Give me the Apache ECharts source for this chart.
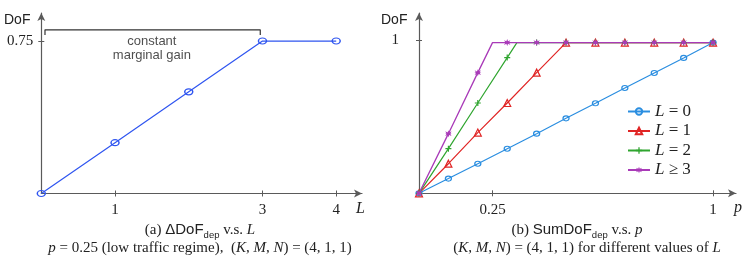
<!DOCTYPE html>
<html>
<head>
<meta charset="utf-8">
<script src="https://cdn.jsdelivr.net/npm/echarts@6/dist/echarts.min.js"></script>
<style>html,body{margin:0;padding:0;background:#fff;}#c{width:748px;height:259px;}</style>
</head>
<body>
<div id="c"></div>
<script>
// ---- Left chart data: ΔDoF_dep vs L ----
const leftL = [0, 1, 2, 3, 4];
const leftDoF = [0, 0.25, 0.5, 0.75, 0.75];
const leftXTicks = [1, 3, 4];
const leftYTicks = [0.75];
const bracketX = [0.05, 0.05, 2.97, 2.97];
const bracketY = [0.78, 0.805, 0.805, 0.78];
const annotX = [1.5];
const annotY = [0.714];

// ---- Right chart data: SumDoF_dep vs p ----
const p0 = [0, 0.1, 0.2, 0.3, 0.4, 0.5, 0.6, 0.7, 0.8, 0.9, 1.0];
const y0 = [0, 0.096, 0.193, 0.291, 0.389, 0.489, 0.587, 0.687, 0.785, 0.883, 0.983];
const p1 = [0, 0.1, 0.2, 0.3, 0.4, 0.5, 0.6, 0.7, 0.8, 0.9, 1.0];
const y1 = [0, 0.193, 0.396, 0.589, 0.787, 0.983, 0.983, 0.983, 0.983, 0.983, 0.983];
const p2 = [0, 0.1, 0.2, 0.3, 0.333, 0.4, 0.5, 0.6, 0.7, 0.8, 0.9, 1.0];
const y2 = [0, 0.291, 0.589, 0.885, 0.983, 0.983, 0.983, 0.983, 0.983, 0.983, 0.983, 0.983];
const p3 = [0, 0.1, 0.2, 0.25, 0.3, 0.4, 0.5, 0.6, 0.7, 0.8, 0.9, 1.0];
const y3 = [0, 0.389, 0.787, 0.983, 0.983, 0.983, 0.983, 0.983, 0.983, 0.983, 0.983, 0.983];
const knees2 = [0.333];
const knees3 = [0.25];
const rightXTicks = [0.25, 1];
const rightYTicks = [1];
const legendNames = ['L = 0', 'L = 1', 'L = 2', 'L ≥ 3'];

const SERIF = '"Liberation Serif", "DejaVu Serif", serif';
const SANS = '"Liberation Sans", Arial, sans-serif';
const AX = '#5a5a5a';

function pts(xs, ys, knees) {
  return xs.map((x, i) => {
    const item = { value: [x, ys[i]] };
    if (knees && knees.indexOf(x) >= 0) item.symbol = 'none';
    return item;
  });
}

function xAxes(grid, max, ticks) {
  const base = {
    type: 'value', gridIndex: grid, min: 0, max: max, position: 'bottom',
    splitLine: { show: false }
  };
  return [
    Object.assign({}, base, {
      axisLine: { show: true, lineStyle: { color: AX, width: 1.2 }, symbol: ['none', 'arrow'], symbolSize: [6, 8] },
      axisTick: { show: true, inside: false, length: 3, customValues: ticks, lineStyle: { color: AX } },
      axisLabel: { show: true, customValues: ticks, margin: 9, color: '#222', fontFamily: SERIF, fontSize: 15,
        formatter: v => String(v) }
    }),
    Object.assign({}, base, {
      axisLine: { show: false },
      axisTick: { show: true, inside: true, length: 3, customValues: ticks, lineStyle: { color: AX } },
      axisLabel: { show: false }
    })
  ];
}
function yAxes(grid, max, ticks, margin) {
  const base = {
    type: 'value', gridIndex: grid, min: 0, max: max, position: 'left',
    splitLine: { show: false }
  };
  return [
    Object.assign({}, base, {
      axisLine: { show: true, lineStyle: { color: AX, width: 1.2 }, symbol: ['none', 'arrow'], symbolSize: [6, 8] },
      axisTick: { show: true, inside: false, length: 3, customValues: ticks, lineStyle: { color: AX } },
      axisLabel: { show: true, customValues: ticks, margin: margin, color: '#222', fontFamily: SERIF, fontSize: 15,
        formatter: v => String(v) }
    }),
    Object.assign({}, base, {
      axisLine: { show: false },
      axisTick: { show: true, inside: true, length: 3, customValues: ticks, lineStyle: { color: AX } },
      axisLabel: { show: false }
    })
  ];
}

const plusPath = 'path://M4,0H6V4H10V6H6V10H4V6H0V4H4Z';
const starPath = 'path://M5,0L6.2,3.2L9.5,1.5L7.8,4.6L10,5L7.8,5.4L9.5,8.5L6.2,6.8L5,10L3.8,6.8L0.5,8.5L2.2,5.4L0,5L2.2,4.6L0.5,1.5L3.8,3.2Z';

const capRich = {
  s: { font: '15px ' + SERIF, fill: '#222', verticalAlign: 'bottom', lineHeight: 17 },
  f: { font: '15px ' + SANS, fill: '#222', verticalAlign: 'bottom', lineHeight: 17 },
  b: { font: '9.5px ' + SANS, fill: '#222', verticalAlign: 'bottom', lineHeight: 12, padding: [0, 0, -3, 0] },
  i: { font: 'italic 15px ' + SERIF, fill: '#222', verticalAlign: 'bottom', lineHeight: 17 }
};
const capRich2 = {
  s: { font: '15px ' + SERIF, fill: '#222' },
  i: { font: 'italic 15px ' + SERIF, fill: '#222' }
};

const chart = echarts.init(document.getElementById('c'), null, { renderer: 'canvas' });
const option = {
  animation: false,
  backgroundColor: '#fff',
  grid: [
    { left: 41.3, top: 13, width: 320.7, height: 180.5 },
    { left: 419, top: 13, width: 317, height: 180.3 }
  ],
  xAxis: [].concat(xAxes(0, 4.35, leftXTicks), xAxes(1, 1.078, rightXTicks)),
  yAxis: [].concat(yAxes(0, 0.888, leftYTicks, 8), yAxes(1, 1.176, rightYTicks, 20)),
  legend: {
    orient: 'vertical', left: 622, top: 98, itemWidth: 22, itemHeight: 8, itemGap: 2.5,
    data: legendNames,
    textStyle: {
      fontFamily: SERIF, fontSize: 17, color: '#222', lineHeight: 16.7,
      rich: { i: { fontFamily: SERIF, fontStyle: 'italic', fontSize: 17, color: '#222' } }
    },
    formatter: n => '{i|L}' + n.slice(1)
  },
  graphic: [
    { type: 'text', left: 4, top: 13, style: { text: 'DoF', font: '14px ' + SANS, fill: '#222' } },
    { type: 'text', left: 381, top: 13, style: { text: 'DoF', font: '14px ' + SANS, fill: '#222' } },
    { type: 'text', left: 356, top: 201, style: { text: 'L', font: 'italic 16px ' + SERIF, fill: '#222' } },
    { type: 'text', left: 734, top: 200, style: { text: 'p', font: 'italic 16px ' + SERIF, fill: '#222' } },
    {
      type: 'text', x: 200, y: 229,
      style: { text: '{s|(a) }{f|ΔDoF}{b|dep}{s| v.s. }{i|L}', align: 'center', verticalAlign: 'middle', rich: capRich }
    },
    {
      type: 'text', x: 200, y: 248,
      style: {
        text: '{i|p}{s| = 0.25 (low traffic regime),  (}{i|K}{s|, }{i|M}{s|, }{i|N}{s|) = (4, 1, 1)}',
        align: 'center', verticalAlign: 'middle', rich: capRich2
      }
    },
    {
      type: 'text', x: 577, y: 229,
      style: { text: '{s|(b) }{f|SumDoF}{b|dep}{s| v.s. }{i|p}', align: 'center', verticalAlign: 'middle', rich: capRich }
    },
    {
      type: 'text', x: 587, y: 248,
      style: {
        text: '{s|(}{i|K}{s|, }{i|M}{s|, }{i|N}{s|) = (4, 1, 1) for different values of }{i|L}',
        align: 'center', verticalAlign: 'middle', rich: capRich2
      }
    }
  ],
  series: [
    {
      type: 'line', xAxisIndex: 0, yAxisIndex: 0, data: pts(leftL, leftDoF),
      symbol: 'circle', symbolSize: [8, 6], showAllSymbol: true,
      lineStyle: { color: '#2f55f0', width: 1.2 },
      itemStyle: { color: 'rgba(0,0,0,0)', borderColor: '#2f55f0', borderWidth: 1.3 }
    },
    {
      type: 'line', xAxisIndex: 0, yAxisIndex: 0,
      data: bracketX.map((x, i) => [x, bracketY[i]]), symbol: 'none',
      lineStyle: { color: '#333', width: 1.2 }, silent: true
    },
    {
      type: 'scatter', xAxisIndex: 0, yAxisIndex: 0,
      data: annotX.map((x, i) => [x, annotY[i]]), symbolSize: 0,
      label: {
        show: true, position: 'inside', formatter: 'constant\nmarginal gain',
        fontFamily: SANS, fontSize: 13, lineHeight: 13.5, color: '#222', align: 'center'
      }, silent: true
    },
    {
      name: legendNames[0], type: 'line', xAxisIndex: 2, yAxisIndex: 2, data: pts(p0, y0),
      symbol: 'circle', symbolSize: [6, 5], showAllSymbol: true,
      lineStyle: { color: '#2b8ee0', width: 1.2 },
      itemStyle: { color: 'rgba(0,0,0,0)', borderColor: '#2b8ee0', borderWidth: 1.2 }
    },
    {
      name: legendNames[1], type: 'line', xAxisIndex: 2, yAxisIndex: 2, data: pts(p1, y1),
      symbol: 'triangle', symbolSize: 7, showAllSymbol: true,
      lineStyle: { color: '#e02424', width: 1.2 },
      itemStyle: { color: 'rgba(0,0,0,0)', borderColor: '#e02424', borderWidth: 1.2 }
    },
    {
      name: legendNames[2], type: 'line', xAxisIndex: 2, yAxisIndex: 2, data: pts(p2, y2, knees2),
      symbol: plusPath, symbolSize: 6, showAllSymbol: true,
      lineStyle: { color: '#2fa52f', width: 1.2 },
      itemStyle: { color: '#2fa52f' }
    },
    {
      name: legendNames[3], type: 'line', xAxisIndex: 2, yAxisIndex: 2, data: pts(p3, y3, knees3),
      symbol: starPath, symbolSize: 7, showAllSymbol: true,
      lineStyle: { color: '#a93ab8', width: 1.3 },
      itemStyle: { color: '#a93ab8' }
    }
  ]
};
chart.setOption(option);
</script>
</body>
</html>
